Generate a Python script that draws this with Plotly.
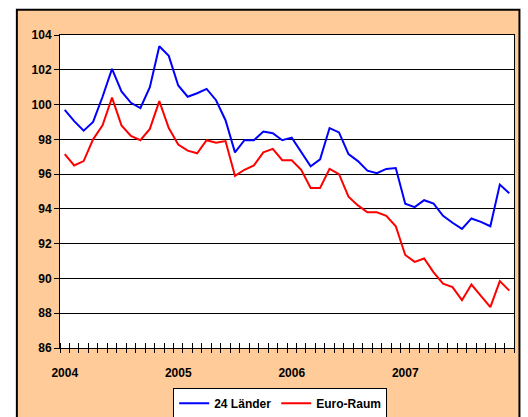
import plotly.graph_objects as go

# Monthly index values, Jan 2004 - Dec 2007
months = [f"{y}-{m:02d}" for y in range(2004, 2008) for m in range(1, 13)]
year_labels = ["2004", "2005", "2006", "2007"]

laender_24 = [99.7, 99.05, 98.5, 99.0, 100.45, 102.05, 100.75, 100.1, 99.8, 101.0, 103.35, 102.8,
              101.1, 100.45, 100.65, 100.9, 100.25, 99.1, 97.25, 97.95, 97.95, 98.45, 98.35, 97.95,
              98.1, 97.25, 96.45, 96.85, 98.65, 98.4, 97.15, 96.75, 96.2, 96.05, 96.3, 96.35,
              94.3, 94.1, 94.5, 94.3, 93.6, 93.2, 92.85, 93.45, 93.25, 93.0, 95.4, 94.9]
euro_raum = [97.15, 96.5, 96.75, 98.0, 98.8, 100.4, 98.8, 98.2, 97.95, 98.6, 100.2, 98.65,
             97.7, 97.35, 97.2, 97.95, 97.8, 97.9, 95.9, 96.25, 96.5, 97.25, 97.45, 96.8,
             96.8, 96.25, 95.2, 95.2, 96.3, 96.0, 94.7, 94.2, 93.8, 93.8, 93.6, 93.0,
             91.35, 90.95, 91.15, 90.35, 89.7, 89.5, 88.75, 89.65, 89.0, 88.35, 89.85, 89.3]

x = list(range(len(months)))
boundaries = [i - 0.5 for i in range(len(months) + 1)]
font = dict(family="Liberation Sans, Arial, sans-serif", size=12, color="black", weight=700)

fig = go.Figure()
fig.add_trace(go.Scatter(x=x, y=laender_24, mode="lines", name="24 Länder",
                         line=dict(color="#0000FF", width=2), customdata=months,
                         hovertemplate="%{customdata}: %{y}<extra>24 Länder</extra>"))
fig.add_trace(go.Scatter(x=x, y=euro_raum, mode="lines", name="Euro-Raum",
                         line=dict(color="#FF0000", width=2), customdata=months,
                         hovertemplate="%{customdata}: %{y}<extra>Euro-Raum</extra>"))
# dummy trace so the overlay axis (outer tick halves) gets drawn
fig.add_trace(go.Scatter(x=[None], y=[None], xaxis="x2", showlegend=False, hoverinfo="skip"))

# peach chart frame, then white plot area on top of it
fig.add_shape(type="rect", xref="paper", yref="paper", x0=-0.095, x1=1.012, y0=-0.25, y1=1.081,
              fillcolor="#FFCC99", line=dict(color="black", width=2), layer="below")
fig.add_shape(type="rect", xref="paper", yref="paper", x0=0, x1=1, y0=0, y1=1,
              fillcolor="white", line=dict(width=0), layer="below")

fig.update_layout(
    width=528, height=417,
    margin=dict(l=60, r=14, t=35, b=69, autoexpand=False),
    paper_bgcolor="white",
    plot_bgcolor="white",
    font=font,
    showlegend=True,
    legend=dict(orientation="h", x=0.485, xanchor="center", y=-0.127, yanchor="top",
                bgcolor="white", bordercolor="black", borderwidth=1, font=font),
    xaxis=dict(range=[-0.5, 47.5], tickmode="array", tickvals=[0, 12, 24, 36], ticktext=year_labels,
               ticks="", showgrid=False, zeroline=False, showline=True, linecolor="black",
               linewidth=1, mirror=True, tickfont=font, ticklabelstandoff=14,
               minor=dict(tickmode="array", tickvals=boundaries, ticks="inside", ticklen=5,
                          tickcolor="black", tickwidth=1, showgrid=False)),
    xaxis2=dict(range=[-0.5, 47.5], overlaying="x", anchor="y", side="bottom",
                tickmode="array", tickvals=boundaries, ticks="outside", ticklen=4,
                tickcolor="black", showticklabels=False, showgrid=False, zeroline=False,
                showline=False),
    yaxis=dict(range=[86, 104], tickmode="linear", tick0=86, dtick=2, showgrid=True,
               gridcolor="black", gridwidth=1, zeroline=False, showline=True, linecolor="black",
               linewidth=1, mirror=True, ticks="outside", ticklen=5, tickcolor="black",
               tickfont=font),
)

# drop the default page margin so the figure sits at the window's top-left corner
fig.write_html("out.html", config={"displayModeBar": False},
               post_script="document.body.style.margin='0';")
